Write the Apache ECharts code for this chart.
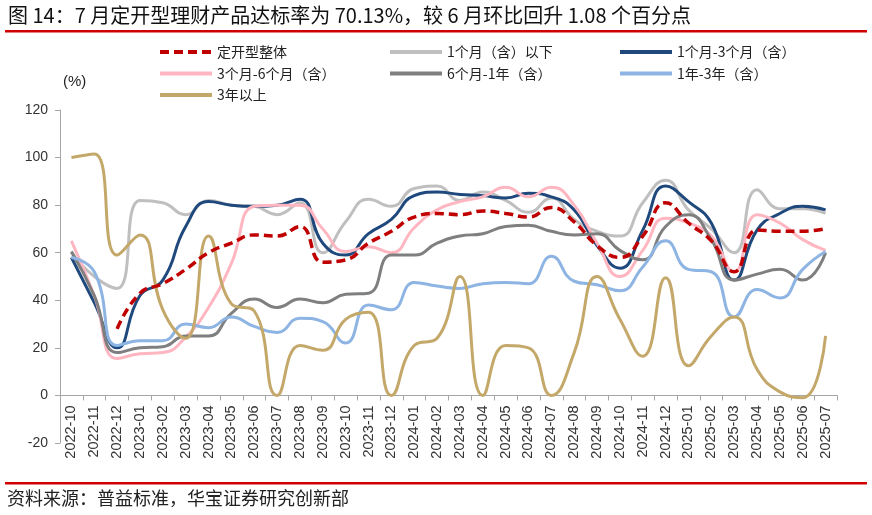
<!DOCTYPE html>
<html><head><meta charset="utf-8">
<script src="https://cdn.jsdelivr.net/npm/echarts@6/dist/echarts.min.js"></script>
<style>html,body{margin:0;padding:0;background:#fff}#c{width:872px;height:515px}</style>
</head><body><div id="c"></div>
<script>
const categories = ["2022-10","2022-11","2022-12","2023-01","2023-02","2023-03","2023-04","2023-05","2023-06","2023-07","2023-08","2023-09","2023-10","2023-11","2023-12","2024-01","2024-02","2024-03","2024-04","2024-05","2024-06","2024-07","2024-08","2024-09","2024-10","2024-11","2024-12","2025-01","2025-02","2025-03","2025-04","2025-05","2025-06","2025-07"];
const yTicks = {min: -20, max: 120, interval: 20};
const seriesNames = ["定开型整体","1个月（含）以下","1个月-3个月（含）","3个月-6个月（含）","6个月-1年（含）","1年-3年（含）","3年以上"];
const overall = [null,null,28,43,47,53,60,64,67.5,67,71,56,57,64,69,75,76.5,76,77.5,76.5,75,79,73,63,58,67,81,72.5,65,52,69.5,69,69.05,70.13];
const upTo1m = [60,50,45,82,81,76,82,80,79.5,76,81,60,73,82.5,79.5,87,88,82,85.5,82,77,83,74,69,67,81,90.5,78,70,60,86.5,78.5,78.5,76.5];
const m1to3 = [58,39,20,42,48.5,71,81.5,80,79.5,80,82.5,64,59,68,74,84,85.5,84.5,84,83,85,83.5,78,63,53.5,69.5,88,81.5,72.5,48.5,69.5,76.5,79.5,78];
const m3to6 = [65,42,15.5,17.5,18,24.5,37,55.5,79.5,80,80,70,60.5,62.5,60,70.5,78,81.5,83.5,87.5,83.5,87.5,80,64,50,61,74.5,72.5,67,52,76,72.5,65.5,61];
const m6to1y = [60.5,42,18,20,20.5,25,25,34.5,40.5,37,40.5,39,42.5,43,59,59,64,67,68,71,71.5,69,67.5,68,61,57,71,76,65.5,48.5,51,53,48.5,60];
const y1to3 = [58,52,21,23,23,30,28.5,33,29,26.5,32.5,31,22,38,36,47.5,46,45,47,47.5,47,58.5,48,46.5,44,54,65,53,52,33,44.5,41,53,60.5];
const over3y = [100,101.5,59,67.5,36,24,67,38.5,35.5,0,21,19,32,35,0,21,24,50,0,21,20,0,18,50,32,16.5,49.5,12.5,25,33,11,1.5,-1,25];
const colors = ["#C00000","#BFBFBF","#1F497D","#FFB6C1","#7F7F7F","#8DB4E2","#C4A86A"];
const dataList = [overall, upTo1m, m1to3, m3to6, m6to1y, y1to3, over3y];

const cjk = '"Noto Sans CJK SC", sans-serif';
const latin = '"Liberation Sans", Arial, sans-serif';

const chart = echarts.init(document.getElementById('c'), null, {renderer: 'canvas'});

const series = seriesNames.map((name, i) => ({
  name: name,
  type: 'line',
  data: dataList[i],
  smooth: 0.5,
  symbol: 'none',
  connectNulls: false,
  z: i === 0 ? 5 : 2,
  lineStyle: {
    color: colors[i],
    width: i === 0 ? 3.5 : 3,
    type: i === 0 ? [9, 5] : 'solid',
    cap: 'butt'
  },
  itemStyle: {color: colors[i]},
  emphasis: {disabled: true}
}));

function legendCol(left, names) {
  return {
    orient: 'vertical',
    left: left,
    top: 45,
    padding: 0,
    itemWidth: 52,
    itemHeight: 14,
    itemGap: 7.5,
    data: names,
    itemStyle: {opacity: 0},
    lineStyle: {width: 4},
    textStyle: {fontFamily: cjk, fontSize: 14, color: '#222'},
    selectedMode: false
  };
}

// zero line position: grid top 110, bottom 443, range -20..120
const gridTop = 110, gridBottom = 443;
const zeroOffset = (gridBottom - gridTop) * (0 - yTicks.min) / (yTicks.max - yTicks.min);

chart.setOption({
  animation: false,
  backgroundColor: '#fff',
  color: colors,
  grid: {left: 60, right: 35, top: gridTop, bottom: 515 - gridBottom, containLabel: false},
  legend: [
    legendCol(158, [seriesNames[0], seriesNames[3], seriesNames[6]]),
    legendCol(388, [seriesNames[1], seriesNames[4]]),
    legendCol(618, [seriesNames[2], seriesNames[5]])
  ],
  xAxis: {
    type: 'category',
    data: categories,
    boundaryGap: true,
    offset: -zeroOffset,
    axisLine: {onZero: false, lineStyle: {color: '#A6A6A6', width: 1}},
    axisTick: {show: true, alignWithLabel: false, length: 5, lineStyle: {color: '#A6A6A6'}},
    axisLabel: {rotate: 90, interval: 0, fontFamily: latin, fontSize: 14.5, color: '#333', margin: 10},
    splitLine: {show: false}
  },
  yAxis: {
    type: 'value',
    min: yTicks.min, max: yTicks.max, interval: yTicks.interval,
    axisLine: {show: true, lineStyle: {color: '#A6A6A6', width: 1}},
    axisTick: {show: true, length: 5, lineStyle: {color: '#A6A6A6'}},
    axisLabel: {fontFamily: latin, fontSize: 14, color: '#333', margin: 12},
    splitLine: {show: false}
  },
  graphic: [
    {type: 'text', left: 8, top: 5, style: {text: '图 14：7 月定开型理财产品达标率为 70.13%，较 6 月环比回升 1.08 个百分点', font: '20px ' + cjk, fill: '#111'}},
    {type: 'rect', shape: {x: 5, y: 30, width: 862, height: 2.5}, style: {fill: '#D00000'}},
    {type: 'text', left: 63, top: 74, style: {text: '(%)', font: '15px ' + latin, fill: '#222'}},
    {type: 'rect', shape: {x: 5, y: 482, width: 862, height: 2.5}, style: {fill: '#D00000'}},
    {type: 'text', left: 7, top: 489, style: {text: '资料来源：普益标准，华宝证券研究创新部', font: '18px ' + cjk, fill: '#222'}}
  ],
  series: series
});
</script></body></html>
